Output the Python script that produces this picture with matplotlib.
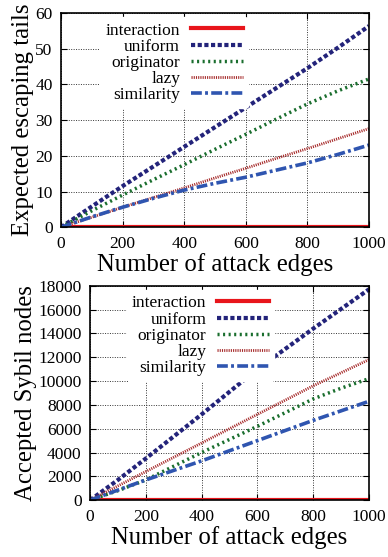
import numpy as np
import matplotlib.pyplot as plt

# data
edges = [0, 100, 200, 300, 400, 500, 600, 700, 800, 900, 1000]

tails_interaction = [0, 0, 0, 0, 0, 0, 0, 0, 0, 0, 0]
tails_uniform = [0, 5.8, 11.5, 17.0, 22.5, 28.0, 33.5, 39.0, 44.5, 50.3, 56.3]
tails_originator = [0, 4.6, 9.0, 13.3, 17.5, 21.8, 26.0, 30.3, 34.5, 38.2, 41.5]
tails_lazy = [0, 2.8, 5.6, 8.3, 11.0, 13.8, 16.5, 19.3, 22.0, 24.8, 27.6]
tails_similarity = [0, 2.9, 5.6, 8.1, 10.4, 12.3, 14.0, 16.0, 18.0, 20.4, 23.0]

sybil_interaction = [0, 0, 0, 0, 0, 0, 0, 0, 0, 0, 0]
sybil_uniform = [0, 1700, 3500, 5350, 7200, 9100, 11000, 12700, 14400, 16050, 17700]
sybil_originator = [0, 800, 1700, 2850, 4000, 5100, 6200, 7350, 8500, 9400, 10200]
sybil_lazy = [0, 1200, 2400, 3600, 4800, 6000, 7200, 8400, 9600, 10700, 11800]
sybil_similarity = [0, 850, 1700, 2500, 3300, 4150, 5000, 5850, 6700, 7500, 8300]

labels = ["interaction", "uniform", "originator", "lazy", "similarity"]

plt.rcParams['font.family'] = ['Liberation Serif', 'DejaVu Serif']

styles = [
    dict(color="#e8151b", lw=3.0, ls="-"),
    dict(color="#23237a", lw=3.0, ls=(0, (1.0, 0.6))),
    dict(color="#1a6e2e", lw=2.5, ls=(0, (0.6, 1.0))),
    dict(color="#a62a2a", lw=2.0, ls=(0, (0.4, 0.4))),
    dict(color="#2f55b0", lw=2.6, ls=(0, (3.0, 0.9, 0.8, 0.9))),
]


def draw_panel(ax, ys, ylim, yticks, ylabel):
    for y, lab, st in zip(ys, labels, styles):
        ax.plot(edges, y, label=lab, **st)
    ax.set_xlim(0, 1000)
    ax.set_ylim(*ylim)
    ax.set_xticks(range(0, 1001, 200))
    ax.set_yticks(yticks)
    ax.grid(True, color="#333333", ls=(0, (1, 1.5)), lw=0.7)
    ax.tick_params(direction="in", top=True, right=True, labelsize=12.5, length=4, pad=6)
    for s in ax.spines.values():
        s.set_linewidth(1.2)
    ax.set_xlabel("Number of attack edges", fontsize=17.8, labelpad=1)
    ax.set_ylabel(ylabel, fontsize=17.8, labelpad=1)
    leg = ax.legend(loc="upper left", bbox_to_anchor=(0.1, 1.02), markerfirst=False,
                    frameon=True, fontsize=12.5, handlelength=3.0, labelspacing=0.0,
                    borderpad=0.3, handletextpad=0.6)
    leg.get_frame().set_edgecolor("white")
    leg.get_frame().set_facecolor("white")
    leg.get_frame().set_alpha(1.0)
    for t in leg.get_texts():
        t.set_ha("right")
    leg._legend_box.align = "right"


fig = plt.figure(figsize=(3.88, 5.57), dpi=100)
ax1 = fig.add_axes([0.157, 0.592, 0.794, 0.385])
ax2 = fig.add_axes([0.232, 0.102, 0.719, 0.385])

draw_panel(ax1, [tails_interaction, tails_uniform, tails_originator, tails_lazy, tails_similarity],
           (0, 60), range(0, 61, 10), "Expected escaping tails")
draw_panel(ax2, [sybil_interaction, sybil_uniform, sybil_originator, sybil_lazy, sybil_similarity],
           (0, 18000), range(0, 18001, 2000), "Accepted Sybil nodes")

fig.savefig("out.png", dpi=100)
